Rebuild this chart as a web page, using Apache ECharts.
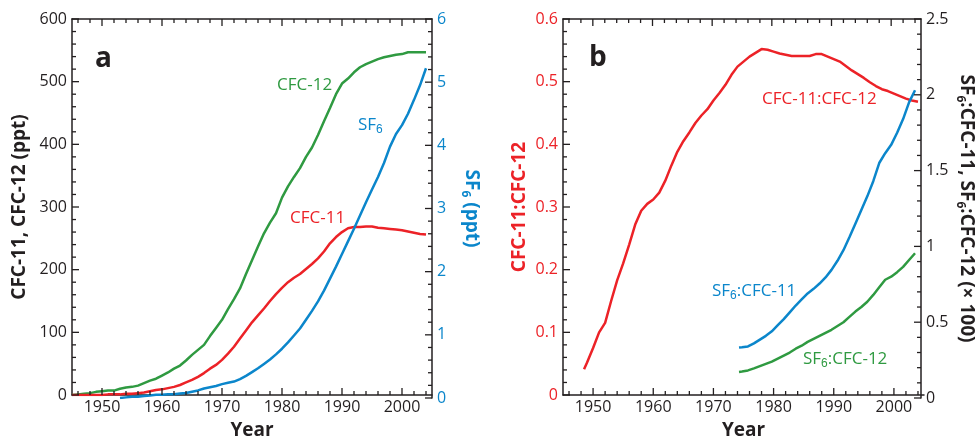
<!DOCTYPE html>
<html>
<head>
<meta charset="utf-8">
<script src="https://cdn.jsdelivr.net/npm/echarts@6/dist/echarts.min.js"></script>
<style>
  html, body { margin: 0; background: #fff; }
  #chart { width: 979px; height: 445px; }
</style>
</head>
<body>
<div id="chart"></div>
<script>
// panel a: mixing ratios (ppt)
const yearsA = [1945, 1946, 1947, 1948, 1949, 1950, 1951, 1952, 1953, 1954, 1955, 1956, 1957, 1958, 1959,
  1960, 1961, 1962, 1963, 1964, 1965, 1966, 1967, 1968, 1969, 1970, 1971, 1972, 1973, 1974, 1975, 1976,
  1977, 1978, 1979, 1980, 1981, 1982, 1983, 1984, 1985, 1986, 1987, 1988, 1989, 1990, 1991, 1992, 1993,
  1994, 1995, 1996, 1997, 1998, 1999, 2000, 2001, 2002, 2003, 2004]
const cfc12 = [0, 1, 2, 3, 5, 6, 7, 7, 10, 12, 13, 15, 19, 23, 26, 31, 36, 42, 47, 55, 64, 72, 80, 94, 107,
  120, 137, 153, 170, 193, 215, 237, 258, 275, 290, 315, 333, 348, 362, 380, 395, 415, 437, 458, 480,
  497, 505, 515, 523, 528, 532, 536, 539, 541, 543, 544, 547, 547, 547, 547]
const cfc11 = [0, 0, 0, 0, 0, 0, 1, 1, 1, 2, 2, 3, 4, 6, 8, 9, 11, 13, 16, 20, 24, 29, 35, 42, 48, 56, 66,
  77, 90, 103, 116, 127, 138, 150, 161, 171, 180, 187, 193, 201, 209, 218, 229, 242, 252, 260, 266, 268,
  268, 269, 269, 267, 266, 265, 264, 263, 261, 259, 257, 256]
const yearsSF6 = [1953, 1954, 1955, 1956, 1957, 1958, 1959, 1960, 1961, 1962, 1963, 1964, 1965, 1966, 1967,
  1968, 1969, 1970, 1971, 1972, 1973, 1974, 1975, 1976, 1977, 1978, 1979, 1980, 1981, 1982, 1983, 1984,
  1985, 1986, 1987, 1988, 1989, 1990, 1991, 1992, 1993, 1994, 1995, 1996, 1997, 1998, 1999, 2000, 2001,
  2002, 2003, 2004]
const sf6 = [0.0, 0.01, 0.02, 0.02, 0.03, 0.04, 0.05, 0.05, 0.06, 0.06, 0.07, 0.08, 0.10, 0.12, 0.15, 0.17,
  0.19, 0.22, 0.24, 0.26, 0.30, 0.35, 0.41, 0.47, 0.54, 0.61, 0.69, 0.78, 0.88, 0.99, 1.10, 1.24, 1.38,
  1.53, 1.70, 1.89, 2.08, 2.28, 2.48, 2.68, 2.89, 3.10, 3.30, 3.50, 3.72, 3.98, 4.18, 4.32, 4.50, 4.72,
  4.95, 5.22]

// panel b: ratios
const yearsRatio = [1948.5, 1949, 1950, 1951, 1952, 1953, 1954, 1955, 1956, 1957, 1958, 1959, 1960, 1961,
  1962, 1963, 1964, 1965, 1966, 1967, 1968, 1969, 1970, 1971, 1972, 1973, 1974, 1975, 1976, 1977, 1978,
  1979, 1980, 1981, 1982, 1983, 1984, 1985, 1986, 1987, 1988, 1989, 1990, 1991, 1992, 1993, 1994, 1995,
  1996, 1997, 1998, 1999, 2000, 2001, 2002, 2003, 2004]
const cfc11to12 = [0.041, 0.052, 0.075, 0.100, 0.115, 0.150, 0.183, 0.210, 0.240, 0.272, 0.294, 0.305,
  0.312, 0.323, 0.342, 0.366, 0.388, 0.405, 0.419, 0.434, 0.446, 0.456, 0.470, 0.482, 0.495, 0.511,
  0.524, 0.532, 0.540, 0.546, 0.552, 0.551, 0.548, 0.545, 0.543, 0.541, 0.541, 0.541, 0.541, 0.544,
  0.544, 0.540, 0.536, 0.532, 0.525, 0.518, 0.512, 0.506, 0.499, 0.493, 0.488, 0.485, 0.481, 0.477,
  0.473, 0.470, 0.468]
const yearsSF6Ratio = [1974.5, 1975, 1976, 1977, 1978, 1979, 1980, 1981, 1982, 1983, 1984, 1985, 1986, 1987,
  1988, 1989, 1990, 1991, 1992, 1993, 1994, 1995, 1996, 1997, 1998, 1999, 2000, 2001, 2002, 2003, 2004]
const sf6to11 = [0.333, 0.335, 0.34, 0.36, 0.385, 0.41, 0.44, 0.48, 0.52, 0.565, 0.61, 0.65, 0.69, 0.72,
  0.755, 0.795, 0.845, 0.905, 0.975, 1.06, 1.15, 1.24, 1.33, 1.43, 1.55, 1.615, 1.67, 1.75, 1.84, 1.95, 2.03]
const sf6to12 = [0.172, 0.175, 0.182, 0.195, 0.21, 0.225, 0.24, 0.26, 0.28, 0.30, 0.325, 0.345, 0.37, 0.39,
  0.41, 0.43, 0.45, 0.475, 0.50, 0.535, 0.57, 0.60, 0.635, 0.68, 0.73, 0.78, 0.80, 0.83, 0.865, 0.91, 0.955]

// tick positions (frame ticks point into the plot, as in the original figure)
const yearMajor = [1950, 1960, 1970, 1980, 1990, 2000]
const yearMinor = [1946, 1948, 1952, 1954, 1956, 1958, 1962, 1964, 1966, 1968, 1972, 1974, 1976, 1978,
  1982, 1984, 1986, 1988, 1992, 1994, 1996, 1998, 2002, 2004]
const cfcMajor = [0, 100, 200, 300, 400, 500, 600]
const sf6Major = [0, 1, 2, 3, 4, 5, 6]
const ratioMajor = [0, 0.1, 0.2, 0.3, 0.4, 0.5, 0.6]
const sf6RatioMajor = [0, 0.5, 1, 1.5, 2, 2.5]

const INK = '#231f20'
const RED = '#ec2227'
const GREEN = '#2f9a41'
const BLUE = '#0b86cb'
const FONT = 'Open Sans'

const pairs = (xs, ys) => xs.map((x, i) => [x, ys[i]])

// 4 minor ticks between each pair of major ticks
const minorsOf = majors => majors.slice(1).flatMap((m, i) => {
  const step = (m - majors[i]) / 5
  return [1, 2, 3, 4].map(k => majors[i] + step * k)
})

// one x and one y axis per grid: each panel gets two stacked grids
// (bottom/left for the first scale, top/right for the second)
const rectA = { left: 72, top: 19, width: 360, height: 379 }
const rectB = { left: 563, top: 19, width: 361, height: 379 }

function xAxisOf(gridIndex, top) {
  return {
    type: 'value', gridIndex, min: 1945, max: 2005, splitNumber: 6,
    position: top ? 'top' : 'bottom',
    axisLine: { show: true, onZero: false, lineStyle: { color: INK, width: 1.5 } },
    axisTick: { show: false },
    minorTick: { show: false },
    splitLine: { show: false },
    axisLabel: top ? { show: false } : {
      color: INK, fontFamily: FONT, fontSize: 16, margin: 4,
      formatter: v => (v % 10 === 0 ? String(v) : '')
    },
    name: top ? '' : 'Year', nameLocation: 'middle', nameGap: 26,
    nameTextStyle: { color: INK, fontFamily: FONT, fontSize: 19, fontWeight: 'bold' }
  }
}

function yAxisOf(gridIndex, position, max, interval, labelColor, name, nameColor, nameGap, fmt) {
  const axisLabel = { color: labelColor, fontFamily: FONT, fontSize: 16, margin: 5 }
  if (fmt) axisLabel.formatter = fmt
  return {
    type: 'value', gridIndex, position, min: 0, max, interval,
    axisLine: { show: true, onZero: false, lineStyle: { color: INK, width: 1.5 } },
    axisTick: { show: false },
    minorTick: { show: false },
    splitLine: { show: false },
    axisLabel,
    name, nameLocation: 'middle', nameGap,
    nameRotate: position === 'right' ? -90 : 90,
    nameTextStyle: {
      color: nameColor, fontFamily: FONT, fontSize: 19, fontWeight: 'bold', lineHeight: 24,
      rich: { s: { fontSize: 12, fontWeight: 'bold', lineHeight: 12, verticalAlign: 'bottom' } }
    }
  }
}

const line = (name, axisIndex, data, color) => ({
  name, type: 'line', xAxisIndex: axisIndex, yAxisIndex: axisIndex, data,
  showSymbol: false,
  lineStyle: { color, width: 2.5 }
})

// frame ticks drawn through the grid's own scales: [x, y, dx, dy]
function frameTicks(axisIndex, yMajor, xEdge, yEdge, sx, sy) {
  const items = []
  yearMajor.forEach(v => items.push([v, yEdge, 0, sy * 7]))
  yearMinor.forEach(v => items.push([v, yEdge, 0, sy * 4]))
  yMajor.forEach(v => items.push([xEdge, v, sx * 7, 0]))
  minorsOf(yMajor).forEach(v => items.push([xEdge, v, sx * 4, 0]))
  return {
    type: 'custom', xAxisIndex: axisIndex, yAxisIndex: axisIndex, silent: true, clip: false, z: 5,
    data: items,
    renderItem: (params, api) => {
      const p = api.coord([api.value(0), api.value(1)])
      return {
        type: 'line',
        shape: { x1: p[0], y1: p[1], x2: p[0] + api.value(2), y2: p[1] + api.value(3) },
        style: { stroke: INK, lineWidth: 1.3 }
      }
    }
  }
}

const label = (x, y, text, color, size, bold) => ({
  type: 'text', x, y,
  style: {
    text, fill: color, fontFamily: FONT, fontSize: size, fontWeight: bold ? 'bold' : 'normal',
    align: 'left', verticalAlign: 'middle', lineHeight: 22,
    rich: { s: { fontSize: 12, lineHeight: 12, verticalAlign: 'bottom' } }
  }
})

const chart = echarts.init(document.getElementById('chart'))
chart.setOption({
  animation: false,
  grid: [rectA, { ...rectA }, rectB, { ...rectB }],
  xAxis: [xAxisOf(0, false), xAxisOf(1, true), xAxisOf(2, false), xAxisOf(3, true)],
  yAxis: [
    yAxisOf(0, 'left', 600, 100, INK, 'CFC-11, CFC-12 (ppt)', INK, 40),
    yAxisOf(1, 'right', 6, 1, BLUE, 'SF{s|6} (ppt)', BLUE, 27),
    yAxisOf(2, 'left', 0.6, 0.1, RED, 'CFC-11:CFC-12', RED, 31, v => (v === 0 ? '0' : v.toFixed(1))),
    yAxisOf(3, 'right', 2.5, 0.5, INK, 'SF{s|6}:CFC-11, SF{s|6}:CFC-12 (× 100)', INK, 33)
  ],
  series: [
    line('CFC-12', 0, pairs(yearsA, cfc12), GREEN),
    line('CFC-11', 0, pairs(yearsA, cfc11), RED),
    line('SF6', 1, pairs(yearsSF6, sf6), BLUE),
    line('CFC-11:CFC-12', 2, pairs(yearsRatio, cfc11to12), RED),
    line('SF6:CFC-11', 3, pairs(yearsSF6Ratio, sf6to11), BLUE),
    line('SF6:CFC-12', 3, pairs(yearsSF6Ratio, sf6to12), GREEN),
    frameTicks(0, cfcMajor, 1945, 0, 1, -1),
    frameTicks(1, sf6Major, 2005, 6, -1, 1),
    frameTicks(2, ratioMajor, 1945, 0, 1, -1),
    frameTicks(3, sf6RatioMajor, 2005, 2.5, -1, 1)
  ],
  graphic: [
    label(95, 59, 'a', INK, 28, true),
    label(277, 85, 'CFC-12', GREEN, 17),
    label(358, 125, 'SF{s|6}', BLUE, 17),
    label(290, 218, 'CFC-11', RED, 17),
    label(589, 58, 'b', INK, 28, true),
    label(762, 99, 'CFC-11:CFC-12', RED, 17),
    label(712, 291, 'SF{s|6}:CFC-11', BLUE, 17),
    label(803, 359, 'SF{s|6}:CFC-12', GREEN, 17)
  ]
})
</script>
</body>
</html>
